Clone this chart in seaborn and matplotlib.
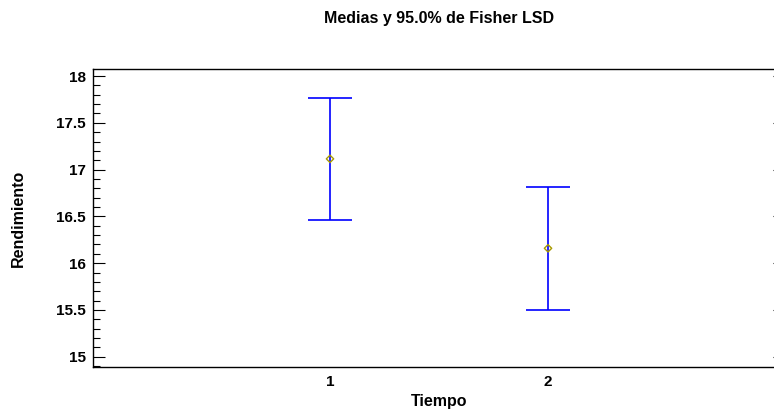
import matplotlib
matplotlib.use("Agg")
import matplotlib.pyplot as plt
from matplotlib.ticker import MultipleLocator
import numpy as np
import pandas as pd
import seaborn as sns

# Group means with 95% Fisher LSD intervals
tiempo = ["1", "2"]
medias = [17.115, 16.159]
inferior = [16.463, 15.503]
superior = [17.767, 16.815]

df = pd.DataFrame({"Tiempo": tiempo, "Rendimiento": medias,
                   "Inferior": inferior, "Superior": superior})

sns.set_theme(style="ticks")
plt.rcParams["font.family"] = ["Liberation Sans", "DejaVu Sans"]
plt.rcParams["text.color"] = "black"
plt.rcParams["axes.labelcolor"] = "black"
plt.rcParams["xtick.color"] = "black"
plt.rcParams["ytick.color"] = "black"

fig = plt.figure(figsize=(7.74, 4.11), dpi=100)
ax = fig.add_axes([0.1202, 0.107, 0.894, 0.725])

# interval bars
xpos = np.arange(len(df))
ax.errorbar(xpos, df["Rendimiento"],
            yerr=[df["Rendimiento"] - df["Inferior"], df["Superior"] - df["Rendimiento"]],
            fmt="none", ecolor="#0000ff", elinewidth=1.2, capsize=15.8, capthick=1.2,
            zorder=2)

# mean markers
sns.scatterplot(data=df, x="Tiempo", y="Rendimiento", ax=ax, marker="D", s=14,
                facecolor="none", edgecolor="#a89a00", linewidth=1.0, zorder=3,
                legend=False)

ax.set_xlim(-1.087, 2.087)
ax.set_ylim(14.89, 18.075)
ax.yaxis.set_minor_locator(MultipleLocator(0.1))
ax.set_yticks([15, 15.5, 16, 16.5, 17, 17.5, 18])
ax.set_yticklabels(["15", "15.5", "16", "16.5", "17", "17.5", "18"])

ax.tick_params(axis="y", which="major", direction="in", length=8.6, width=0.8,
               left=True, right=True, labelsize=11, pad=5, colors="black")
ax.tick_params(axis="y", which="minor", direction="in", length=5, width=0.8,
               left=True, right=True)
ax.tick_params(axis="x", which="both", length=0, labelsize=11, pad=6)
for lbl in ax.get_xticklabels() + ax.get_yticklabels():
    lbl.set_fontweight("bold")

for side in ["left", "right", "top", "bottom"]:
    ax.spines[side].set_color("black")
    ax.spines[side].set_linewidth(1.0)

ax.set_xlabel("Tiempo", fontsize=11.5, fontweight="bold", labelpad=3)
ax.set_ylabel("Rendimiento", fontsize=11.5, fontweight="bold", labelpad=22)
ax.set_title("Medias y 95.0% de Fisher LSD", fontsize=11.5, fontweight="bold", pad=33)

fig.savefig("out.png", dpi=100)
